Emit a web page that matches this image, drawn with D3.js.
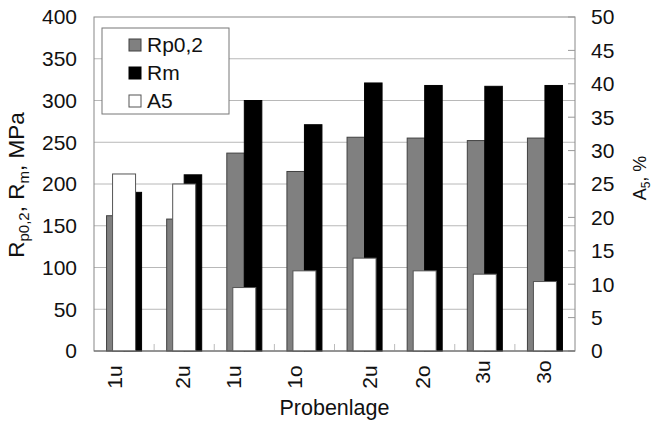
<!DOCTYPE html>
<html><head><meta charset="utf-8">
<script src="https://cdn.jsdelivr.net/npm/d3@7"></script>
<style>
html,body{margin:0;padding:0;background:#fff;}
svg{display:block;font-family:"Liberation Sans",Arial,sans-serif;}
</style></head>
<body><svg id="c" width="653" height="423"></svg>
<script>
const categories = ["1u","2u","1u","1o","2u","2o","3u","3o"];
const rp02 = [162,158,237,215,256,255,252,255];
const rm   = [190,211,300,271,321,318,317,318];
const a5   = [26.5,25,9.5,12,13.9,12,11.5,10.4];
const leftTicks = [0,50,100,150,200,250,300,350,400];
const rightTicks = [0,5,10,15,20,25,30,35,40,45,50];
const seriesNames = ["Rp0,2","Rm","A5"];
// label layout nudges (pixels) to follow the original hand-placed labels
const labelDx = [-9,-2,-11,-9.5,5.5,-2,-2,-1];
const labelDy = [0,0,0,0,0,0,-5,-5];

const svg = d3.select("#c");
const L=94, R=575, T=17, B=351;
const x0 = d3.scaleBand().domain(d3.range(categories.length)).range([L,R]);
const x1 = d3.scaleBand().domain(["rp","rm"]).range([0,x0.bandwidth()]).paddingInner(0).paddingOuter(0.717);
const x2 = d3.scaleBand().domain(["a5"]).range([0,x0.bandwidth()]).paddingOuter(0.807);
const yL = d3.scaleLinear().domain([0,400]).range([B,T]);
const yR = d3.scaleLinear().domain([0,50]).range([B,T]);

// gridlines
svg.append("g").selectAll("line").data(leftTicks.filter(d=>d>0&&d<400)).join("line")
  .attr("x1",L).attr("x2",R).attr("y1",d=>yL(d)).attr("y2",d=>yL(d))
  .attr("stroke","#b8b8b8").attr("stroke-width",1);

// frame
svg.append("rect").attr("x",L).attr("y",T).attr("width",R-L).attr("height",B-T)
  .attr("fill","none").attr("stroke","#888").attr("stroke-width",1);

// category ticks (inside)
svg.append("g").selectAll("line").data(d3.range(1,categories.length)).join("line")
  .attr("x1",d=>x0(d)).attr("x2",d=>x0(d)).attr("y1",B).attr("y2",B-7)
  .attr("stroke","#bbb");

// right axis ticks (inside)
svg.append("g").selectAll("line").data(rightTicks).join("line")
  .attr("x1",R-7).attr("x2",R).attr("y1",d=>yR(d)).attr("y2",d=>yR(d))
  .attr("stroke","#999");

// bars
const g = svg.append("g");
g.selectAll(".rp").data(rp02).join("rect").attr("class","rp")
  .attr("x",(d,i)=>x0(i)+x1("rp")).attr("width",x1.bandwidth())
  .attr("y",d=>yL(d)).attr("height",d=>B-yL(d))
  .attr("fill","#808080").attr("stroke","#404040").attr("stroke-width",1);
g.selectAll(".rm").data(rm).join("rect").attr("class","rm")
  .attr("x",(d,i)=>x0(i)+x1("rm")).attr("width",x1.bandwidth())
  .attr("y",d=>yL(d)).attr("height",d=>B-yL(d))
  .attr("fill","#000").attr("stroke","#000").attr("stroke-width",1);
g.selectAll(".a5").data(a5).join("rect").attr("class","a5")
  .attr("x",(d,i)=>x0(i)+x2("a5")).attr("width",x2.bandwidth())
  .attr("y",d=>yR(d)).attr("height",d=>B-yR(d))
  .attr("fill","#fff").attr("stroke","#555").attr("stroke-width",1);

// bottom axis line redraw
svg.append("line").attr("x1",L).attr("x2",R).attr("y1",B).attr("y2",B).attr("stroke","#666");

const FS = 21;
// left tick labels
svg.append("g").selectAll("text").data(leftTicks).join("text")
  .attr("x",77).attr("y",d=>yL(d)).attr("dy","0.35em")
  .attr("text-anchor","end").attr("font-size",FS).attr("fill","#111").text(d=>d);
// right tick labels
svg.append("g").selectAll("text").data(rightTicks).join("text")
  .attr("x",591).attr("y",d=>yR(d)).attr("dy","0.35em")
  .attr("text-anchor","start").attr("font-size",FS).attr("fill","#111").text(d=>d);

// category labels
svg.append("g").selectAll("text").data(categories).join("text")
  .attr("transform",(d,i)=>`translate(${x0(i)+x0.bandwidth()/2+labelDx[i]},${377+labelDy[i]}) rotate(-90)`)
  .attr("text-anchor","middle").attr("dy","0.35em")
  .attr("font-size",FS).attr("fill","#111").text(d=>d);

// x title
svg.append("text").attr("x",(L+R)/2).attr("y",415).attr("text-anchor","middle")
  .attr("font-size",21.5).attr("fill","#111").text("Probenlage");

// left title
const lt = svg.append("text").attr("transform",`translate(24,185) rotate(-90)`)
  .attr("text-anchor","middle").attr("font-size",22.5).attr("fill","#111");
lt.append("tspan").text("R");
lt.append("tspan").attr("font-size",15).attr("dy",5).text("p0,2");
lt.append("tspan").attr("dy",-5).text(", R");
lt.append("tspan").attr("font-size",15).attr("dy",5).text("m");
lt.append("tspan").attr("dy",-5).text(", MPa");

// right title
const rt = svg.append("text").attr("transform",`translate(646,178) rotate(-90)`)
  .attr("text-anchor","middle").attr("font-size",18).attr("fill","#111");
rt.append("tspan").text("A");
rt.append("tspan").attr("font-size",12).attr("dy",4).text("5");
rt.append("tspan").attr("dy",-4).text(", %");

// legend
const lg = svg.append("g");
lg.append("rect").attr("x",102).attr("y",28).attr("width",127).attr("height",86)
  .attr("fill","#fff").attr("stroke","#777");
const legFill = ["#808080","#000","#fff"];
const legStroke = ["#404040","#000","#555"];
const rowY = [45,73,101];
lg.selectAll(".sw").data(seriesNames).join("rect").attr("class","sw")
  .attr("x",129).attr("y",(d,i)=>rowY[i]-6).attr("width",12).attr("height",12)
  .attr("fill",(d,i)=>legFill[i]).attr("stroke",(d,i)=>legStroke[i]);
lg.selectAll(".lt").data(seriesNames).join("text").attr("class","lt")
  .attr("x",147).attr("y",(d,i)=>rowY[i]).attr("dy","0.35em")
  .attr("font-size",FS).attr("fill","#111").text(d=>d);
</script></body></html>
